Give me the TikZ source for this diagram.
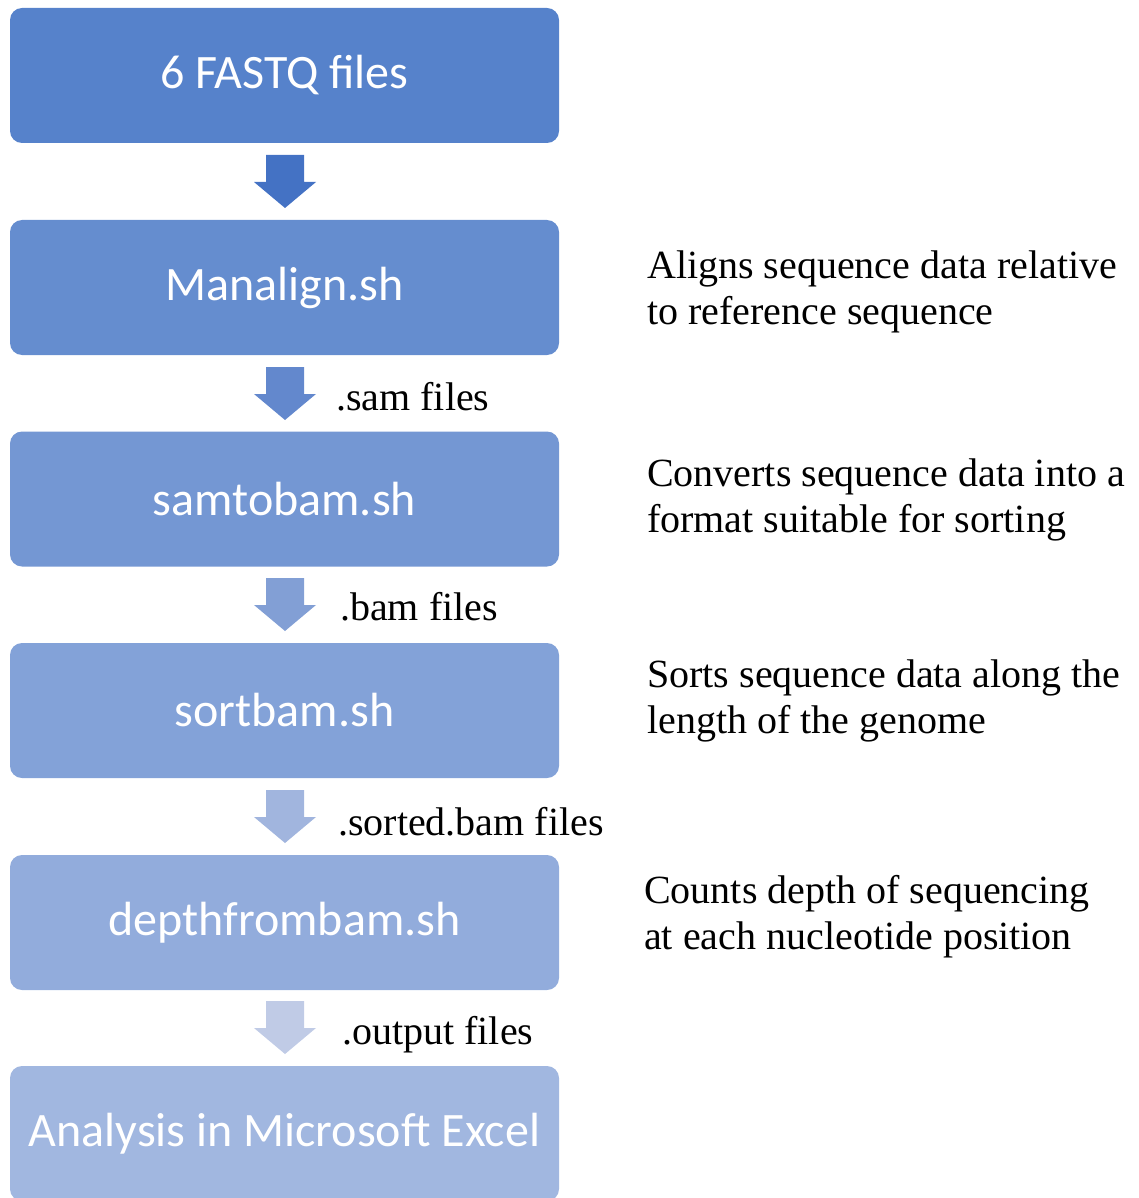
\documentclass[tikz,border=0pt]{standalone}
\usepackage{fontspec}
\setmainfont{Liberation Serif}
\newfontfamily\boxfont{Carlito}
\definecolor{bA}{RGB}{86,130,203}
\definecolor{bZ}{RGB}{161,183,224}
\definecolor{aA}{RGB}{68,114,196}
\definecolor{aZ}{RGB}{192,203,230}
\tikzset{
  stepbox/.style={rounded corners=12pt, minimum width=549pt, minimum height=135pt, inner sep=0pt,
    text=white, font=\boxfont\fontsize{48}{54}\selectfont},
  note/.style={anchor=west, align=left, inner sep=0pt, font=\fontsize{40}{46}\selectfont},
  flabel/.style={anchor=west, inner sep=0pt, font=\fontsize{40}{46}\selectfont},
}
\newcommand{\blockarrow}[3]{% name, top y, color
  \fill[#3] (266,#2) -- (304,#2) -- (304,#2+27) -- (316,#2+27) -- (285,#2+53) -- (254,#2+27) -- (266,#2+27) -- cycle;
  \coordinate (#1) at (285,#2+26);
}
\begin{document}
\begin{tikzpicture}[x=1pt,y=-1pt]
\useasboundingbox (0,0) rectangle (1139,1198);
\node[stepbox, fill=bA] (b1) at (284.5,75.5) {\raisebox{-2pt}{6 FASTQ files}};
\node[stepbox, fill=bZ!20!bA] (b2) at (284.5,287.5) {\raisebox{-2pt}{Manalign.sh}};
\node[stepbox, fill=bZ!40!bA] (b3) at (284.5,499) {\raisebox{-2pt}{samtobam.sh}};
\node[stepbox, fill=bZ!60!bA] (b4) at (284.5,710.5) {\raisebox{-2pt}{sortbam.sh}};
\node[stepbox, fill=bZ!80!bA] (b5) at (284.5,922.5) {\raisebox{-2pt}{depthfrombam.sh}};
\node[stepbox, fill=bZ] (b6) at (284.5,1133.5) {\raisebox{-2pt}{Analysis in Microsoft Excel}};
\blockarrow{a1}{155}{aA}
\blockarrow{a2}{367}{aZ!25!aA}
\blockarrow{a3}{578}{aZ!50!aA}
\blockarrow{a4}{790}{aZ!75!aA}
\blockarrow{a5}{1001}{aZ}
\node[flabel] (l1) at (336,397) {.sam files};
\node[flabel] (l2) at (340,607) {.bam files};
\node[flabel] (l3) at (338,822) {.sorted.bam files};
\node[flabel] (l4) at (342,1035) {.output files};
\node[note] (n1) at (647,292) {Aligns sequence data relative\\to reference sequence};
\node[note] (n2) at (647,500) {Converts sequence data into a\\format suitable for sorting};
\node[note] (n3) at (647,701) {Sorts sequence data along the\\length of the genome};
\node[note] (n4) at (644,917) {Counts depth of sequencing\\at each nucleotide position};
\end{tikzpicture}
\end{document}
